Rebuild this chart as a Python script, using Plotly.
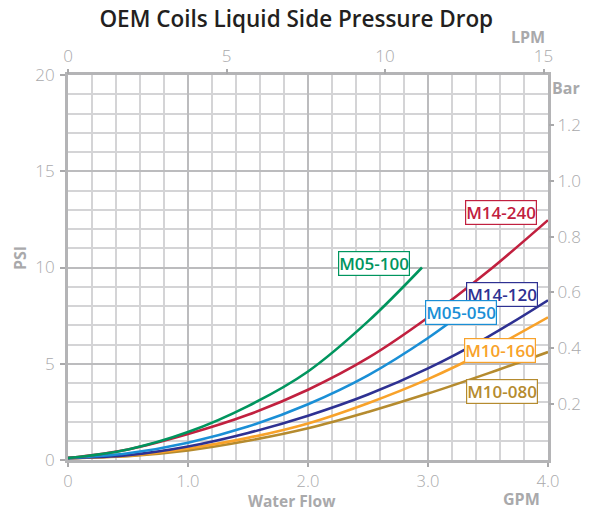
import plotly.graph_objects as go

# Flow (GPM) sample points and pressure drop (PSI) for each coil
gpm = [0, 0.5, 1.0, 1.5, 2.0, 2.5, 3.0, 3.5, 4.0]

m05_100_gpm = [0, 0.5, 1.0, 1.5, 2.0, 2.5, 2.95]
m05_100_psi = [0.1, 0.55, 1.45, 2.8, 4.6, 7.2, 10.0]

m14_240_psi = [0.1, 0.55, 1.35, 2.35, 3.65, 5.3, 7.4, 9.8, 12.46]

m05_050_gpm = [0, 0.5, 1.0, 1.5, 2.0, 2.5, 3.0, 3.3]
m05_050_psi = [0.1, 0.35, 0.9, 1.74, 2.9, 4.4, 6.34, 7.7]

m14_120_psi = [0.1, 0.25, 0.7, 1.4, 2.3, 3.4, 4.76, 6.4, 8.3]
m10_160_psi = [0.1, 0.22, 0.6, 1.15, 1.9, 2.95, 4.2, 5.7, 7.41]
m10_080_psi = [0.1, 0.2, 0.5, 1.0, 1.65, 2.5, 3.45, 4.5, 5.61]

gpm_ticks = [0, 1, 2, 3, 4]
gpm_labels = ["0", "1.0", "2.0", "3.0", "4.0"]
psi_ticks = [0, 5, 10, 15, 20]
lpm_ticks = [0, 5, 10, 15]
bar_ticks = [0.2, 0.4, 0.6, 0.8, 1.0, 1.2]
bar_labels = ["0.2", "0.4", "0.6", "0.8", "1.0", "1.2"]

LPM_PER_GPM = 3.78541
BAR_PER_PSI = 0.0689476

series = [
    ("M10-080", gpm, m10_080_psi, "#b58b2f", (3.62, 3.57)),
    ("M10-160", gpm, m10_160_psi, "#f8a22a", (3.60, 5.68)),
    ("M14-120", gpm, m14_120_psi, "#2e3192", (3.62, 8.62)),
    ("M05-050", m05_050_gpm, m05_050_psi, "#1a8fd6", (3.275, 7.66)),
    ("M14-240", gpm, m14_240_psi, "#c1203f", (3.61, 12.84)),
    ("M05-100", m05_100_gpm, m05_100_psi, "#00955e", (2.55, 10.21)),
]

GRAY = "#a9a9ab"
FONT = "Open Sans"

fig = go.Figure()
annotations = []
for name, xs, ys, color, (lx, ly) in series:
    fig.add_trace(go.Scatter(
        x=xs, y=ys, mode="lines", name=name,
        line=dict(color=color, width=2.6, shape="spline", smoothing=1.0),
        hoverinfo="x+y+name",
    ))
    annotations.append(dict(
        x=lx, y=ly, xref="x", yref="y", text=name, showarrow=False,
        font=dict(family=FONT, size=17, color=color, weight=600),
        bgcolor="white", bordercolor=color, borderwidth=1.2, borderpad=0,
    ))

# dummy traces to activate the secondary axes
fig.add_trace(go.Scatter(x=[0, 15], y=[None, None], xaxis="x2", yaxis="y",
                         showlegend=False, hoverinfo="skip"))
fig.add_trace(go.Scatter(x=[None, None], y=[0, 1], xaxis="x", yaxis="y2",
                         showlegend=False, hoverinfo="skip"))

tickfont = dict(family=FONT, size=17, color=GRAY, weight=300)
titlefont = dict(family=FONT, size=16, color=GRAY, weight=700)

common_axis = dict(
    ticks="outside", ticklen=5, tickwidth=1.5, tickcolor=GRAY,
    tickfont=tickfont, zeroline=False, fixedrange=True, automargin=False,
)

fig.update_layout(
    width=589, height=511,
    margin=dict(l=68, r=41, t=75, b=51, autoexpand=False),
    paper_bgcolor="white", plot_bgcolor="white",
    showlegend=False,
    title=dict(
        text="OEM Coils Liquid Side Pressure Drop",
        x=0.503, xanchor="center", y=0.963, yanchor="middle",
        font=dict(family=FONT, size=22.5, color="#231f20", weight=600),
    ),
    xaxis=dict(
        range=[0, 4], tickvals=gpm_ticks, ticktext=gpm_labels,
        showgrid=True, gridcolor="#bcbcbe", gridwidth=2,
        minor=dict(dtick=0.2, showgrid=True, gridcolor="#d4d4d6", gridwidth=1.6),
        showline=True, mirror=True, linecolor="#b4b4b6", linewidth=3,
        ticklabelstandoff=0,
        **dict(common_axis, ticklen=4, tickfont=dict(tickfont, size=16.5)),
    ),
    yaxis=dict(
        range=[0, 20], tickvals=psi_ticks,
        showgrid=True, gridcolor="#bcbcbe", gridwidth=2,
        minor=dict(dtick=1, showgrid=True, gridcolor="#d4d4d6", gridwidth=1.6),
        showline=True, mirror=True, linecolor="#b4b4b6", linewidth=3,
        ticklabelstandoff=2,
        **common_axis,
    ),
    xaxis2=dict(
        range=[0, 4 * LPM_PER_GPM], tickvals=lpm_ticks,
        overlaying="x", side="top", showgrid=False, showline=False,
        ticklabelstandoff=0,
        **common_axis,
    ),
    yaxis2=dict(
        range=[0, 20 * BAR_PER_PSI], tickvals=bar_ticks, ticktext=bar_labels,
        overlaying="y", side="right", showgrid=False, showline=False,
        ticklabelstandoff=0,
        **common_axis,
    ),
)

# axis titles
annotations += [
    dict(text="PSI", x=20, y=258, textangle=-90, font=titlefont),
    dict(text="Bar", x=566, y=88, font=titlefont),
    dict(text="LPM", x=528, y=37, font=titlefont),
    dict(text="GPM", x=521, y=499, font=titlefont),
    dict(text="Water Flow", x=292, y=501, font=dict(titlefont, size=15.5)),
]
for a in annotations[-5:]:
    a.update(xref="paper", yref="paper", showarrow=False,
             xanchor="center", yanchor="middle")
    a["x"] = (a["x"] - 68) / (589 - 68 - 41)
    a["y"] = (511 - 51 - a["y"]) / (511 - 75 - 51)

fig.update_layout(annotations=annotations)
fig.write_html("out.html")
